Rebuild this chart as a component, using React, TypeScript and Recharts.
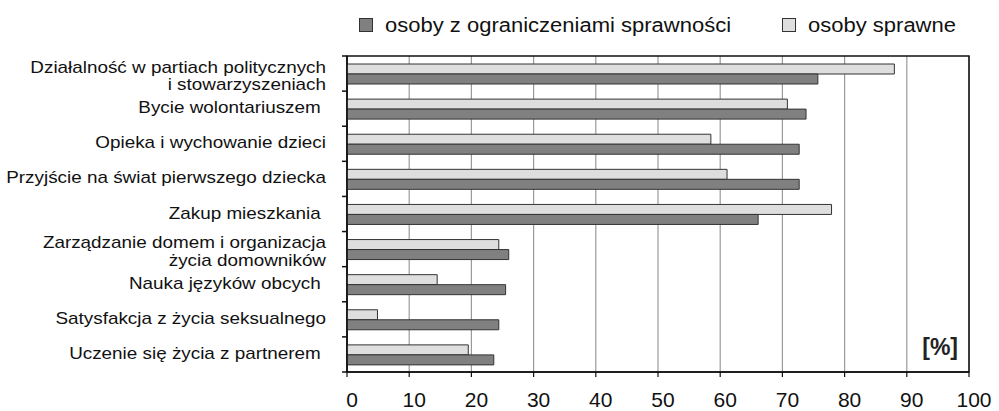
import React from 'react';
import { BarChart, Bar, XAxis, YAxis, CartesianGrid, Legend, ReferenceArea } from 'recharts';

const categories = [
  'Działalność w partiach politycznych\ni stowarzyszeniach',
  'Bycie wolontariuszem ',
  'Opieka i wychowanie dzieci',
  'Przyjście na świat pierwszego dziecka',
  'Zakup mieszkania ',
  'Zarządzanie domem i organizacja\nżycia domowników',
  'Nauka języków obcych ',
  'Satysfakcja z życia seksualnego',
  'Uczenie się życia z partnerem ',
];

// osoby sprawne (light bars)
const sprawne = [88.0, 70.8, 58.5, 61.1, 77.9, 24.4, 14.5, 4.9, 19.5];
// osoby z ograniczeniami sprawności (dark bars)
const ograniczenia = [75.7, 73.8, 72.7, 72.7, 66.1, 26.0, 25.5, 24.4, 23.6];

const xTicks = [0, 10, 20, 30, 40, 50, 60, 70, 80, 90, 100];

const seriesNames: Record<string, string> = {
  ograniczenia: 'osoby z ograniczeniami sprawności',
  sprawne: 'osoby sprawne',
};

const data = categories.map((name, i) => ({
  name,
  sprawne: sprawne[i],
  ograniczenia: ograniczenia[i],
}));

const W = 999;
const H = 411;
const PLOT = { left: 347, top: 56, right: 969, bottom: 372 };
const BAND = (PLOT.bottom - PLOT.top) / categories.length;
const FONT = '"Liberation Sans", Arial, Helvetica, sans-serif';
const DARK = '#808080';
const LIGHT = '#dedede';
const EDGE = '#333';
const INK = '#111';

function CategoryTick(props: any) {
  const { y, payload } = props;
  const lines = String(payload.value).split('\n');
  const last = payload.value === categories[categories.length - 1];
  const top = y - BAND / 2;
  return (
    <g>
      <line x1={PLOT.left - 5} x2={PLOT.left} y1={top} y2={top} stroke={INK} strokeWidth={1.5} />
      {last && (
        <line x1={PLOT.left - 5} x2={PLOT.left} y1={y + BAND / 2} y2={y + BAND / 2} stroke={INK} strokeWidth={1.5} />
      )}
      <text
        transform={`translate(326 ${y}) scale(1.18 1)`}
        textAnchor="end"
        fontSize={16}
        fill={INK}
        fontFamily={FONT}
        style={{ whiteSpace: 'pre' }}
      >
        {lines.map((l, k) => (
          <tspan key={k} x={0} y={lines.length > 1 ? -1 + k * 17.5 : 4.5}>
            {l}
          </tspan>
        ))}
      </text>
    </g>
  );
}

function ValueTick(props: any) {
  const { x, y, payload } = props;
  return (
    <text x={x + 5} y={y + 28} textAnchor="middle" fontSize={21} fill={INK} fontFamily={FONT}>
      {payload.value}
    </text>
  );
}

function LegendBox() {
  const items = [
    { key: 'ograniczenia', fill: DARK, left: 359 },
    { key: 'sprawne', fill: LIGHT, left: 782 },
  ];
  return (
    <div style={{ position: 'relative', width: W, height: 40, fontFamily: FONT }}>
      {items.map((it) => (
        <div
          key={it.key}
          style={{
            position: 'absolute',
            left: it.left,
            top: 15,
            height: 20,
            display: 'flex',
            alignItems: 'center',
            lineHeight: '20px',
            fontSize: 20,
            color: INK,
            whiteSpace: 'nowrap',
          }}
        >
          <span style={{ display: 'inline-block', width: 12, height: 12, background: it.fill, border: `1px solid ${EDGE}` }} />
          <span style={{ display: 'inline-block', marginLeft: 12, transform: 'scaleX(1.1)', transformOrigin: 'left center' }}>
            {seriesNames[it.key]}
          </span>
        </div>
      ))}
    </div>
  );
}

export default function App() {
  return (
    <div style={{ position: 'absolute', left: 0, top: 0, width: W, height: H, background: '#fff' }}>
      <BarChart
        width={W}
        height={H}
        data={data}
        layout="vertical"
        barGap={0}
        margin={{ top: PLOT.top, right: W - PLOT.right, bottom: 0, left: 0 }}
      >
        <CartesianGrid horizontal={false} stroke="#9a9a9a" strokeWidth={1.2} />
        <XAxis
          type="number"
          domain={[0, 100]}
          ticks={xTicks}
          height={H - PLOT.bottom}
          axisLine={{ stroke: INK, strokeWidth: 1.5 }}
          tickLine={{ stroke: INK, strokeWidth: 1.2 }}
          tickSize={5}
          tickMargin={2}
          tick={<ValueTick />}
          interval={0}
        />
        <YAxis
          type="category"
          dataKey="name"
          width={PLOT.left}
          axisLine={{ stroke: INK, strokeWidth: 1.5 }}
          tickLine={false}
          tick={<CategoryTick />}
          interval={0}
        />
        <Legend
          content={<LegendBox />}
          layout="horizontal"
          verticalAlign="middle"
          align="center"
          wrapperStyle={{ top: 0, left: 0, width: W, height: 40 }}
        />
        <Bar
          dataKey="sprawne"
          name={seriesNames.sprawne}
          fill={LIGHT}
          stroke={EDGE}
          strokeWidth={1}
          barSize={10}
          isAnimationActive={false}
        />
        <Bar
          dataKey="ograniczenia"
          name={seriesNames.ograniczenia}
          fill={DARK}
          stroke={EDGE}
          strokeWidth={1}
          barSize={10}
          isAnimationActive={false}
        />
        <ReferenceArea
          x1={0}
          x2={100}
          fill="none"
          stroke={INK}
          strokeWidth={1.5}
          label={(p: any) => {
            const vb = p.viewBox;
            return (
              <text
                x={vb.x + vb.width - 11}
                y={vb.y + vb.height - 17}
                textAnchor="end"
                fontSize={23}
                fontWeight="bold"
                fill="#222"
                fontFamily={FONT}
              >
                [%]
              </text>
            );
          }}
        />
      </BarChart>
    </div>
  );
}
